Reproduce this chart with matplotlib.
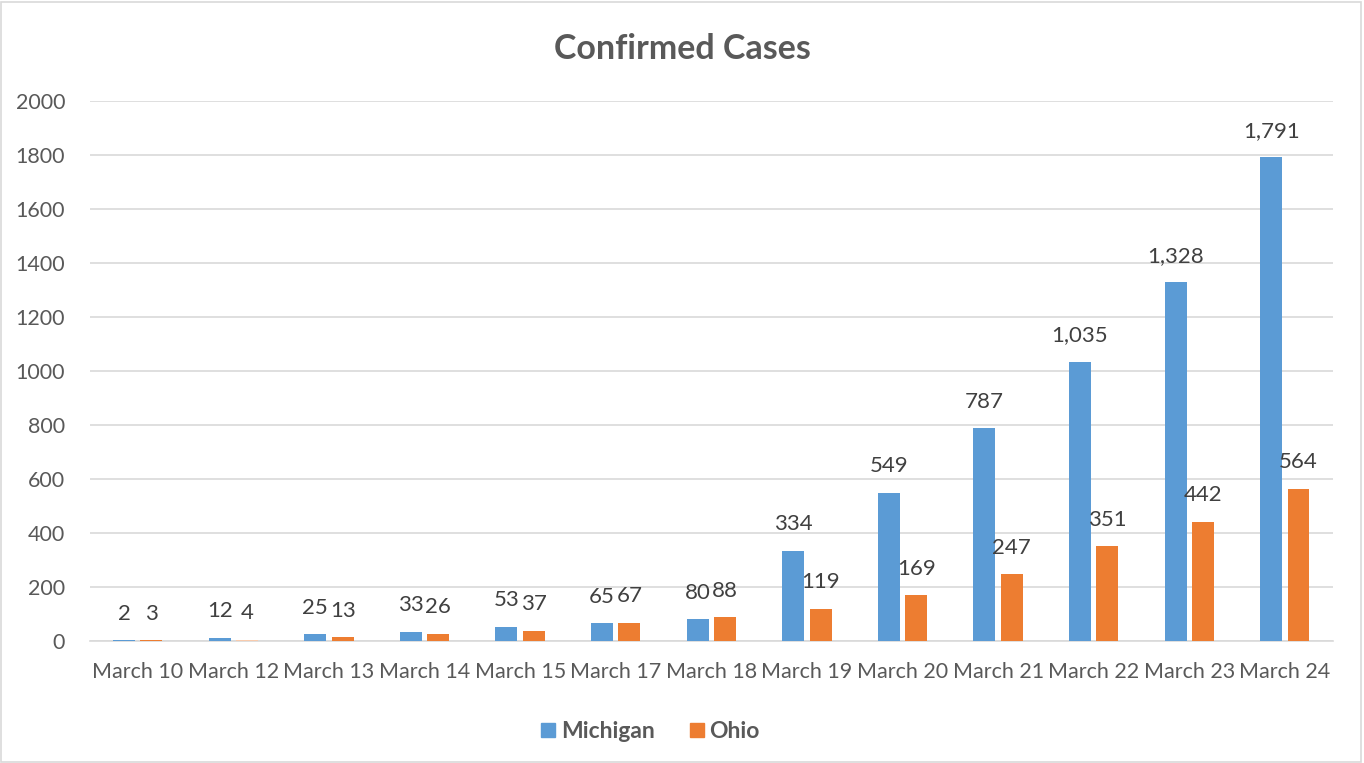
import numpy as np
import matplotlib
matplotlib.use("Agg")
import matplotlib.pyplot as plt
from matplotlib.patches import Rectangle

dates = ["March 10", "March 12", "March 13", "March 14", "March 15", "March 17",
         "March 18", "March 19", "March 20", "March 21", "March 22", "March 23", "March 24"]
michigan = [2, 12, 25, 33, 53, 65, 80, 334, 549, 787, 1035, 1328, 1791]
ohio = [3, 4, 13, 26, 37, 67, 88, 119, 169, 247, 351, 442, 564]

blue = "#5B9BD5"
orange = "#ED7D31"
ohio_colors = [orange] * len(ohio)
ohio_colors[1] = "#F8CBAD"  # the March 12 bar is drawn pale in the original

plt.rcParams["font.family"] = ["Lato", "DejaVu Sans"]

fig = plt.figure(figsize=(13.64, 7.63), dpi=100)
ax = fig.add_axes([0.066, 0.1599, 0.911, 0.7078])

x = np.arange(len(dates))
w = 0.23
off = 0.143
b1 = ax.bar(x - off, michigan, w, color=blue, zorder=3, label="Michigan")
b2 = ax.bar(x + off, ohio, w, color=ohio_colors, zorder=3, label="Ohio")

for bars, vals in ((b1, michigan), (b2, ohio)):
    for r, v in zip(bars, vals):
        ax.annotate(f"{v:,}", (r.get_x() + r.get_width() / 2, v),
                    xytext=(0, 12), textcoords="offset points",
                    ha="center", va="bottom", fontsize=16, color="#404040")

ax.set_xlim(-0.5, len(dates) - 0.5)
ax.set_ylim(0, 2000)
ax.set_yticks(range(0, 2001, 200))
ax.set_xticks(x)
ax.set_xticklabels(dates)
ax.tick_params(axis="both", length=0, labelsize=15.5, colors="#595959")
ax.tick_params(axis="y", pad=18)
ax.tick_params(axis="x", pad=15)
ax.grid(axis="y", color="#D9D9D9", linewidth=1.2, zorder=0)
for s in ["top", "right", "left"]:
    ax.spines[s].set_visible(False)
ax.spines["bottom"].set_color("#D9D9D9")
ax.spines["bottom"].set_linewidth(1.2)

fig.text(0.5, 0.936, "Confirmed Cases", ha="center", va="center",
         fontsize=24.5, fontweight="bold", color="#595959")

handles = [Rectangle((0, 0), 1, 1, color=blue), Rectangle((0, 0), 1, 1, color=orange)]
fig.legend(handles, ["Michigan", "Ohio"], loc="center", bbox_to_anchor=(0.477, 0.041),
           ncol=2, frameon=False, handlelength=0.6, handleheight=0.6, columnspacing=1.55,
           handletextpad=0.25, prop={"size": 16.5, "weight": "bold"}, labelcolor="#595959")

fig.add_artist(Rectangle((0.001, 0.001), 0.997, 0.997, transform=fig.transFigure,
                         fill=False, edgecolor="#D9D9D9", linewidth=1.2))

fig.savefig("out.png", dpi=100, facecolor="white")
